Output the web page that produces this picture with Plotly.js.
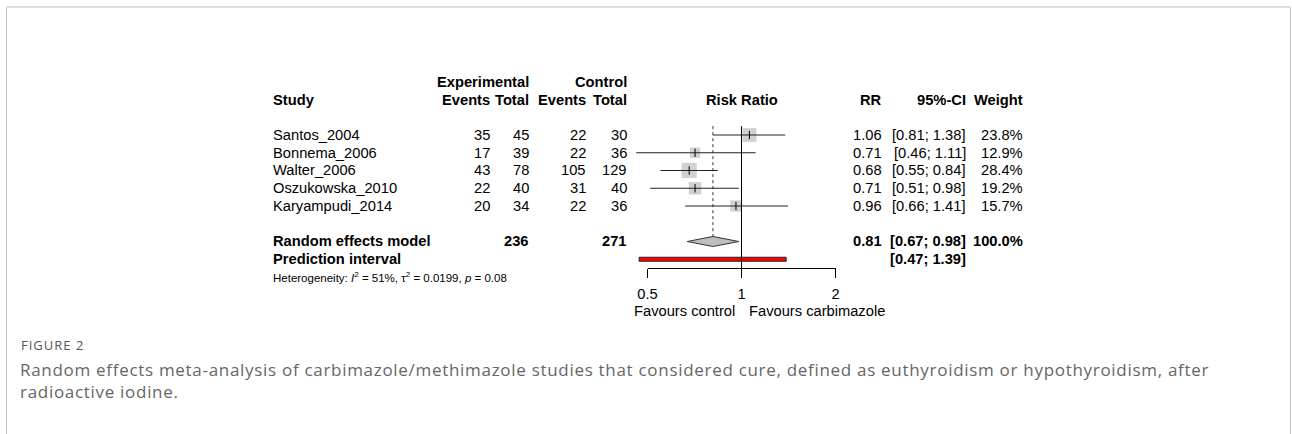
<!DOCTYPE html>
<html>
<head>
<meta charset="utf-8">
<script src="https://cdn.plot.ly/plotly-3.0.1.min.js"></script>
<style>
  html, body { margin: 0; padding: 0; background: #fff; }
  #chart { width: 1292px; height: 434px; }
</style>
</head>
<body>
<div id="chart"></div>
<script>
// ---------------- data ----------------
const studies    = ['Santos_2004', 'Bonnema_2006', 'Walter_2006', 'Oszukowska_2010', 'Karyampudi_2014'];
const expEvents  = [35, 17, 43, 22, 20];
const expTotal   = [45, 39, 78, 40, 34];
const ctrlEvents = [22, 22, 105, 31, 22];
const ctrlTotal  = [30, 36, 129, 40, 36];
const rr         = [1.06, 0.71, 0.68, 0.71, 0.96];
const ciLow      = [0.81, 0.46, 0.55, 0.51, 0.66];
const ciHigh     = [1.38, 1.11, 0.84, 0.98, 1.41];
const weight     = [23.8, 12.9, 28.4, 19.2, 15.7];

const pooledLabel  = 'Random effects model';
const pooledRR     = [0.81, 0.67, 0.98];   // estimate, lower, upper
const pooledTotals = [236, 271];           // experimental, control
const pooledWeight = 100.0;
const predLabel    = 'Prediction interval';
const predInt      = [0.47, 1.39];
const hetI2 = 51, hetTau2 = 0.0199, hetP = 0.08;

const tickVals  = [0.5, 1, 2];
const tickText  = ['0.5', '1', '2'];
const labelLeft  = 'Favours control';
const labelRight = 'Favours carbimazole';

const figLabel = 'FIGURE 2';
const captionLines = [
  'Random effects meta-analysis of carbimazole/methimazole studies that considered cure, defined as euthyroidism or hypothyroidism, after',
  'radioactive iodine.'
];

// ---------------- geometry (pixels) ----------------
const W = 1292, H = 434;
const ROW1_PX = 135, ROW_H = 17.75;
const X1_PX = 741.5, PX_PER_LOG10 = 94 / Math.log10(2);
const FONT = 'Liberation Sans, Arial, Helvetica, sans-serif';
const FS = 14.7;

const studyRows = studies.map((_, i) => i + 1);
const reRow = studies.length + 2;
const piRow = reRow + 1;
const hetRow = piRow + 1;
const bottomRow = piRow + 0.5;
const bottomPx = ROW1_PX + (bottomRow - 1) * ROW_H;
const topRow = 1 - ROW1_PX / ROW_H;
const rowPx = r => ROW1_PX + (r - 1) * ROW_H;

const xPx = v => X1_PX + PX_PER_LOG10 * Math.log10(v);
const xMin = -X1_PX / PX_PER_LOG10, xMax = (W - X1_PX) / PX_PER_LOG10;
const tMin = Math.min(...tickVals), tMax = Math.max(...tickVals);

const col = { study: 272, expEv: 491, expTot: 530, ctrlEv: 587, ctrlTot: 628, rr: 883, ci: 967, wt: 1024 };

// ---------------- traces ----------------
const dh = 5 / ROW_H, ph = 2 / ROW_H;
const traces = [
  { x: [1, 1], y: [0.5, bottomRow], xaxis: 'x2', yaxis: 'y', mode: 'lines',
    line: { color: '#000', width: 1 }, hoverinfo: 'skip', showlegend: false },
  { x: [pooledRR[0], pooledRR[0]], y: [0.5, reRow - dh], mode: 'lines',
    line: { color: '#333', width: 1, dash: 'dot' }, hoverinfo: 'skip', showlegend: false },
  { x: rr, y: studyRows, mode: 'markers', type: 'scatter',
    marker: { symbol: 'square', color: '#bebebe', size: weight.map(w => Math.sqrt(w) * 2.85), line: { width: 0 } },
    hoverinfo: 'skip', showlegend: false },
  { x: rr, y: studyRows, mode: 'markers', type: 'scatter',
    marker: { symbol: 'line-ns', size: 6, color: '#000', line: { color: '#000', width: 1 } },
    error_x: { type: 'data', symmetric: false,
      array: rr.map((v, i) => ciHigh[i] - v), arrayminus: rr.map((v, i) => v - ciLow[i]),
      width: 0, thickness: 1, color: '#222' },
    hoverinfo: 'skip', showlegend: false },
  { x: [pooledRR[1], pooledRR[0], pooledRR[2], pooledRR[0], pooledRR[1]],
    y: [reRow, reRow - dh, reRow, reRow + dh, reRow], mode: 'lines', fill: 'toself',
    fillcolor: '#bebebe', line: { color: '#333', width: 1 }, hoverinfo: 'skip', showlegend: false },
  { x: [predInt[0], predInt[1], predInt[1], predInt[0], predInt[0]],
    y: [piRow - ph, piRow - ph, piRow + ph, piRow + ph, piRow - ph], mode: 'lines', fill: 'toself',
    fillcolor: '#ff0000', line: { color: '#222', width: 1 }, hoverinfo: 'skip', showlegend: false }
];

// ---------------- annotations ----------------
const ann = [];
const txt = (text, px, row, anchor, opts = {}) => ann.push(Object.assign({
  text, x: px / W, xref: 'paper', y: 1 - rowPx(row) / H, yref: 'paper', xanchor: anchor, yanchor: 'middle',
  showarrow: false, borderpad: 0, font: { family: FONT, size: FS, color: '#000' }
}, opts));
const b = s => '<b>' + s + '</b>';

txt(b('Experimental'), col.expTot, -2, 'right');
txt(b('Control'), col.ctrlTot, -2, 'right');
txt(b('Study'), col.study, -1, 'left');
txt(b('Events'), col.expEv, -1, 'right');
txt(b('Total'), col.expTot, -1, 'right');
txt(b('Events'), col.ctrlEv, -1, 'right');
txt(b('Total'), col.ctrlTot, -1, 'right');
txt(b('Risk Ratio'), X1_PX, -1, 'center');
txt(b('RR'), col.rr, -1, 'right');
txt(b('95%-CI'), col.ci, -1, 'right');
txt(b('Weight'), col.wt, -1, 'right');

const f2 = v => v.toFixed(2);
studies.forEach((s, i) => {
  const r = studyRows[i];
  txt(s, col.study, r, 'left');
  txt(String(expEvents[i]), col.expEv, r, 'right');
  txt(String(expTotal[i]), col.expTot, r, 'right');
  txt(String(ctrlEvents[i]), col.ctrlEv, r, 'right');
  txt(String(ctrlTotal[i]), col.ctrlTot, r, 'right');
  txt(f2(rr[i]), col.rr, r, 'right');
  txt('[' + f2(ciLow[i]) + '; ' + f2(ciHigh[i]) + ']', col.ci, r, 'right');
  txt(weight[i].toFixed(1) + '%', col.wt, r, 'right');
});

txt(b(pooledLabel), col.study, reRow, 'left');
txt(b(String(pooledTotals[0])), col.expTot, reRow, 'right');
txt(b(String(pooledTotals[1])), col.ctrlTot, reRow, 'right');
txt(b(f2(pooledRR[0])), col.rr, reRow, 'right');
txt(b('[' + f2(pooledRR[1]) + '; ' + f2(pooledRR[2]) + ']'), col.ci, reRow, 'right');
txt(b(pooledWeight.toFixed(1) + '%'), col.wt, reRow, 'right');
txt(b(predLabel), col.study, piRow, 'left');
txt(b('[' + f2(predInt[0]) + '; ' + f2(predInt[1]) + ']'), col.ci, piRow, 'right');
txt('Heterogeneity: <i>I</i><sup>2</sup> = ' + hetI2 + '%, τ<sup>2</sup> = ' + hetTau2 + ', <i>p</i> = ' + hetP,
    col.study, hetRow, 'left', { font: { family: FONT, size: 11.5, color: '#000' } });

const favY = 1 - 311 / H;
ann.push({ text: labelLeft, xref: 'x2', x: Math.log10(1), xshift: -6, yref: 'paper', y: favY,
  xanchor: 'right', yanchor: 'middle', showarrow: false, borderpad: 0, font: { family: FONT, size: FS, color: '#000' } });
ann.push({ text: labelRight, xref: 'x2', x: Math.log10(1), xshift: 6, yref: 'paper', y: favY,
  xanchor: 'left', yanchor: 'middle', showarrow: false, borderpad: 0, font: { family: FONT, size: FS, color: '#000' } });

const capStart = ann.length;
ann.push({ text: figLabel, xref: 'paper', x: 20 / W, yref: 'paper', y: 1 - 345 / H, xanchor: 'left', yanchor: 'middle',
  align: 'left', showarrow: false, borderpad: 0, font: { family: 'Open Sans, sans-serif', size: 13, color: '#555' } });
captionLines.forEach((line, i) => ann.push({ text: line, xref: 'paper', x: 19 / W, yref: 'paper', y: 1 - (369 + 22 * i) / H,
  xanchor: 'left', yanchor: 'middle', align: 'left', showarrow: false, borderpad: 0,
  font: { family: 'Open Sans, sans-serif', size: 17, color: '#666' } }));

// letter spacing for caption texts (styling only)
const st = document.createElement('style');
st.textContent =
  `g.annotation[data-index="${capStart}"] text { letter-spacing: 1px; }\n` +
  `g.annotation[data-index="${capStart + 1}"] text, g.annotation[data-index="${capStart + 2}"] text { letter-spacing: 0.7px; }`;
document.head.appendChild(st);

// ---------------- layout ----------------
const layout = {
  width: W, height: H, margin: { l: 0, r: 0, t: 0, b: 0, pad: 0 },
  paper_bgcolor: '#fff', plot_bgcolor: 'rgba(0,0,0,0)', showlegend: false,
  xaxis: { type: 'log', domain: [0, 1], range: [xMin, xMax], visible: false, fixedrange: true },
  xaxis2: { type: 'log', anchor: 'y',
    domain: [xPx(tMin) / W, xPx(tMax) / W],
    range: [Math.log10(tMin) - 1e-6, Math.log10(tMax) + 1e-6],
    tickvals: tickVals, ticktext: tickText, ticks: 'outside', ticklen: 9, tickwidth: 1, tickcolor: '#000',
    ticklabelstandoff: 3,
    showline: true, linecolor: '#000', linewidth: 1, showgrid: false, zeroline: false,
    tickfont: { family: FONT, size: FS, color: '#000' }, fixedrange: true },
  yaxis: { domain: [1 - bottomPx / H, 1], range: [bottomRow, topRow], visible: false, fixedrange: true },
  annotations: ann,
  shapes: [
    { type: 'rect', xref: 'paper', yref: 'paper', x0: 6.5 / W, x1: 1290.5 / W, y0: 1 - 7.5 / H, y1: -0.2,
      line: { color: '#c4c4c4', width: 1 } },
    { type: 'line', xref: 'paper', yref: 'paper', x0: 6.5 / W, x1: 1290.5 / W, y0: 1 - 7 / H, y1: 1 - 7 / H,
      line: { color: '#dedede', width: 2 } }
  ]
};

Plotly.newPlot('chart', traces, layout, { staticPlot: true, displayModeBar: false });
</script>
</body>
</html>
